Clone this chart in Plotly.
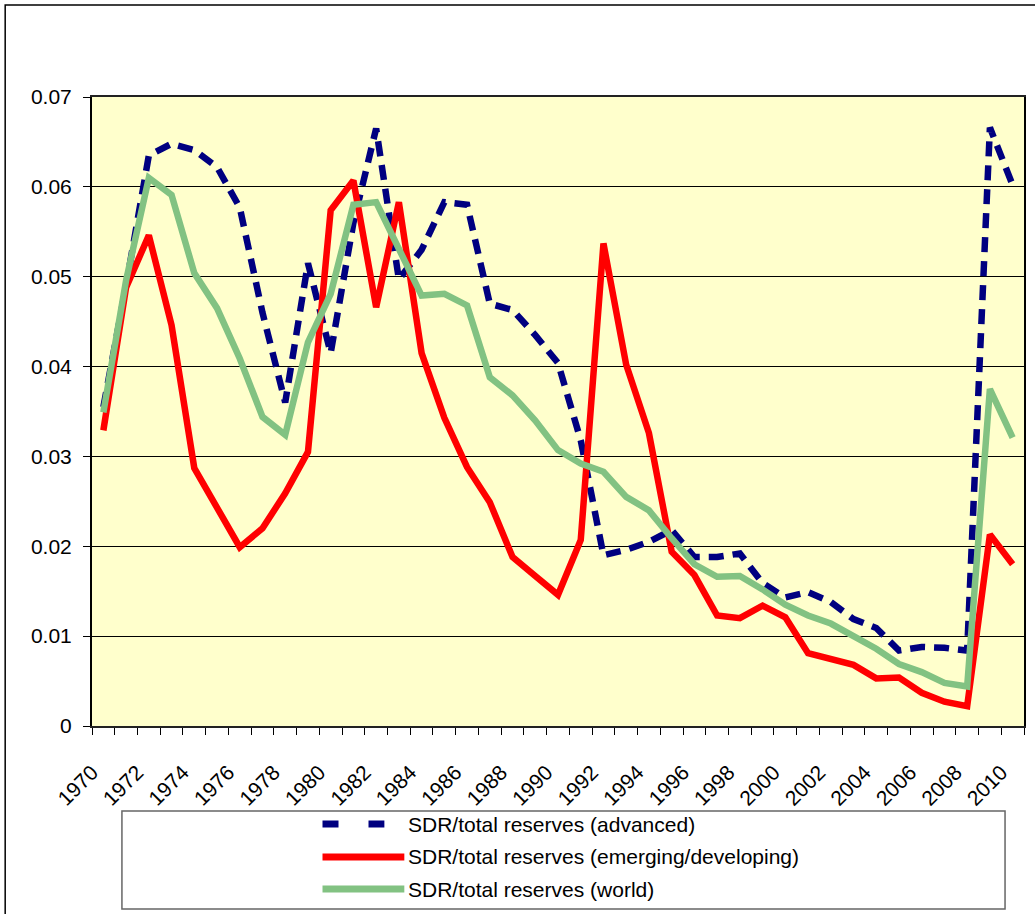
import plotly.graph_objects as go

# ── data ──────────────────────────────────────────────────────
years = list(range(1970, 2011))

advanced = [0.0355, 0.0490, 0.0635, 0.0648, 0.0641, 0.0622, 0.0577, 0.0460, 0.0360, 0.0515,
            0.0415, 0.0560, 0.0665, 0.0497, 0.0530, 0.0583, 0.0580, 0.0470, 0.0463, 0.0435,
            0.0404, 0.0318, 0.0190, 0.0196, 0.0205, 0.0218, 0.0188, 0.0188, 0.0192, 0.0159,
            0.0143, 0.0149, 0.0138, 0.0119, 0.0109, 0.0084, 0.0088, 0.0087, 0.0084, 0.0666,
            0.0602]

emerging = [0.0329, 0.0488, 0.0546, 0.0446, 0.0287, 0.0243, 0.0199, 0.0220, 0.0259, 0.0305,
            0.0574, 0.0607, 0.0466, 0.0583, 0.0415, 0.0343, 0.0288, 0.0249, 0.0188, 0.0167,
            0.0146, 0.0207, 0.0537, 0.0402, 0.0326, 0.0194, 0.0168, 0.0123, 0.0120, 0.0134,
            0.0121, 0.0081, 0.0074, 0.0068, 0.0053, 0.0054, 0.0037, 0.0027, 0.0022, 0.0213,
            0.0180]

world = [0.0349, 0.0496, 0.0610, 0.0591, 0.0504, 0.0465, 0.0409, 0.0344, 0.0324, 0.0427,
         0.0481, 0.0580, 0.0583, 0.0532, 0.0479, 0.0481, 0.0468, 0.0388, 0.0368, 0.0340,
         0.0307, 0.0292, 0.0283, 0.0255, 0.0240, 0.0209, 0.0180, 0.0166, 0.0167, 0.0152,
         0.0135, 0.0123, 0.0114, 0.0100, 0.0086, 0.0069, 0.0060, 0.0048, 0.0044, 0.0375,
         0.0321]

label_years = list(range(1970, 2011, 2))

names = ["SDR/total reserves (advanced)",
         "SDR/total reserves (emerging/developing)",
         "SDR/total reserves (world)"]

FONT = "Arial, Liberation Sans, sans-serif"
BLUE = "#000080"
RED = "#FF0000"
GREEN = "#82C282"

# Excel-style category axis: tick marks sit on the boundaries between years,
# and the rotated label of every second year ends at its left boundary
tick_pos = [y - 0.5 for y in years] + [years[-1] + 0.5]
tick_txt = [str(y) if y in label_years else "" for y in years] + [""]

fig = go.Figure()

fig.add_trace(go.Scatter(x=years, y=advanced, mode="lines", name=names[0],
                         line=dict(color=BLUE, width=6.5, dash="15px,9px")))
fig.add_trace(go.Scatter(x=years, y=emerging, mode="lines", name=names[1],
                         line=dict(color=RED, width=6.5)))
fig.add_trace(go.Scatter(x=years, y=world, mode="lines", name=names[2],
                         line=dict(color=GREEN, width=6.5)))

# ── hand-made legend box (Excel style, long line samples) ─────
W, H = 1035, 914
L, R, T, B = 92, 9, 97, 188
pw, ph = W - L - R, H - T - B


def px(x):
    return (x - L) / pw


def py(y):
    return (H - B - y) / ph


shapes = [
    # outer chart frame
    dict(type="rect", xref="paper", yref="paper",
         x0=px(5), x1=px(1060), y0=py(940), y1=py(5),
         line=dict(color="black", width=1.5)),
    # legend frame
    dict(type="rect", xref="paper", yref="paper",
         x0=px(122), x1=px(1007), y0=py(909), y1=py(811),
         line=dict(color="#666666", width=1.5), fillcolor="white"),
]
annotations = []
rows = [824, 857, 889]
styles = [(BLUE, "16px,30px"), (RED, "solid"), (GREEN, "solid")]
for name, row, (col, dash) in zip(names, rows, styles):
    shapes.append(dict(type="line", xref="paper", yref="paper",
                       x0=px(323), x1=px(405) if dash == "solid" else px(385),
                       y0=py(row), y1=py(row),
                       line=dict(color=col, width=7, dash=dash)))
    annotations.append(dict(text=name, xref="paper", yref="paper",
                            x=px(407), y=py(row), xanchor="left", yanchor="middle",
                            showarrow=False, font=dict(size=21, color="black", family=FONT)))

fig.update_layout(
    width=W, height=H,
    margin=dict(l=L, r=R, t=T, b=B),
    paper_bgcolor="white",
    plot_bgcolor="#FFFFCC",
    font=dict(family=FONT, size=21, color="black"),
    showlegend=False,
    shapes=shapes,
    annotations=annotations,
    xaxis=dict(
        range=[1969.5, 2010.5],
        tickvals=tick_pos, ticktext=tick_txt,
        tickangle=-45, ticks="outside", ticklen=7, tickcolor="black",
        showgrid=False, zeroline=False,
        showline=True, linecolor="#222222", linewidth=1.5, mirror=True,
        tickfont=dict(size=21),
        ticklabelstandoff=17,
    ),
    yaxis=dict(
        range=[0, 0.07], dtick=0.01, tick0=0,
        ticks="outside", ticklen=7, tickcolor="black",
        showgrid=True, gridcolor="black", gridwidth=1,
        zeroline=False,
        showline=True, linecolor="black", linewidth=2, mirror=True,
        tickfont=dict(size=21),
        ticklabelstandoff=7,
    ),
)

fig.write_html("out.html", config={"displayModeBar": False},
               post_script="document.body.style.margin='0';")
